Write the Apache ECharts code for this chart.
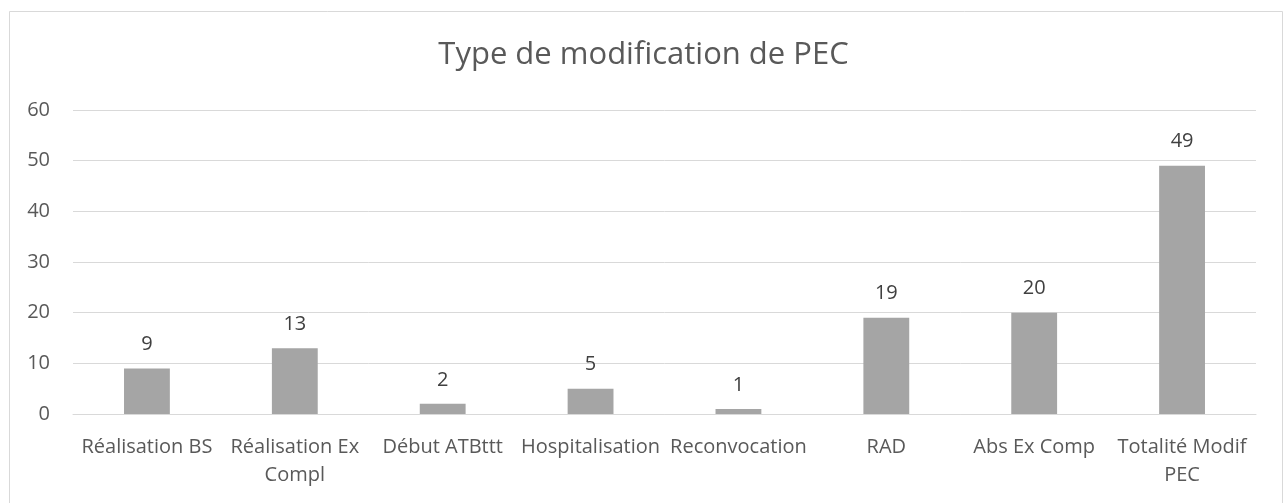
<!DOCTYPE html>
<html>
<head>
<meta charset="utf-8">
<script src="https://cdn.jsdelivr.net/npm/echarts@6/dist/echarts.min.js"></script>
<style>
html,body{margin:0;padding:0;background:#fff;}
#chart{width:1287px;height:503px;}
</style>
</head>
<body>
<div id="chart"></div>
<script>
const titleText = 'Type de modification de PEC';
const categories = ['Réalisation BS', 'Réalisation Ex\nCompl', 'Début ATBttt', 'Hospitalisation', 'Reconvocation', 'RAD', 'Abs Ex Comp', 'Totalité Modif\nPEC'];
const values = [9, 13, 2, 5, 1, 19, 20, 49];
const yTicks = { min: 0, max: 60, interval: 10 };

const chart = echarts.init(document.getElementById('chart'), null, { renderer: 'canvas' });
const font = '"Open Sans", "DejaVu Sans", sans-serif';
chart.setOption({
  animation: false,
  backgroundColor: '#ffffff',
  graphic: [{
    type: 'rect',
    shape: { x: 9.5, y: 11.5, width: 1273, height: 495 },
    style: { fill: 'none', stroke: '#d9d9d9', lineWidth: 1 },
    silent: true
  }],
  title: {
    text: titleText,
    left: 'center',
    top: 35,
    textStyle: { fontFamily: font, fontSize: 31, fontWeight: 'normal', color: '#595959' }
  },
  grid: { left: 73, right: 31, top: 110, bottom: 89 },
  xAxis: {
    type: 'category',
    data: categories,
    axisLine: { lineStyle: { color: '#d9d9d9', width: 1 } },
    axisTick: { show: false },
    axisLabel: {
      interval: 0,
      margin: 19,
      fontFamily: font,
      fontSize: 20,
      lineHeight: 28,
      color: '#595959'
    }
  },
  yAxis: {
    type: 'value',
    min: yTicks.min,
    max: yTicks.max,
    interval: yTicks.interval,
    axisLine: { show: false },
    axisTick: { show: false },
    splitLine: { lineStyle: { color: '#d9d9d9', width: 1 } },
    axisLabel: { margin: 23, fontFamily: font, fontSize: 20, color: '#595959' }
  },
  series: [{
    type: 'bar',
    data: values,
    barWidth: '31%',
    itemStyle: { color: '#a5a5a5' },
    label: {
      show: true,
      position: 'top',
      distance: 14,
      fontFamily: font,
      fontSize: 20,
      color: '#404040'
    }
  }]
});
</script>
</body>
</html>
